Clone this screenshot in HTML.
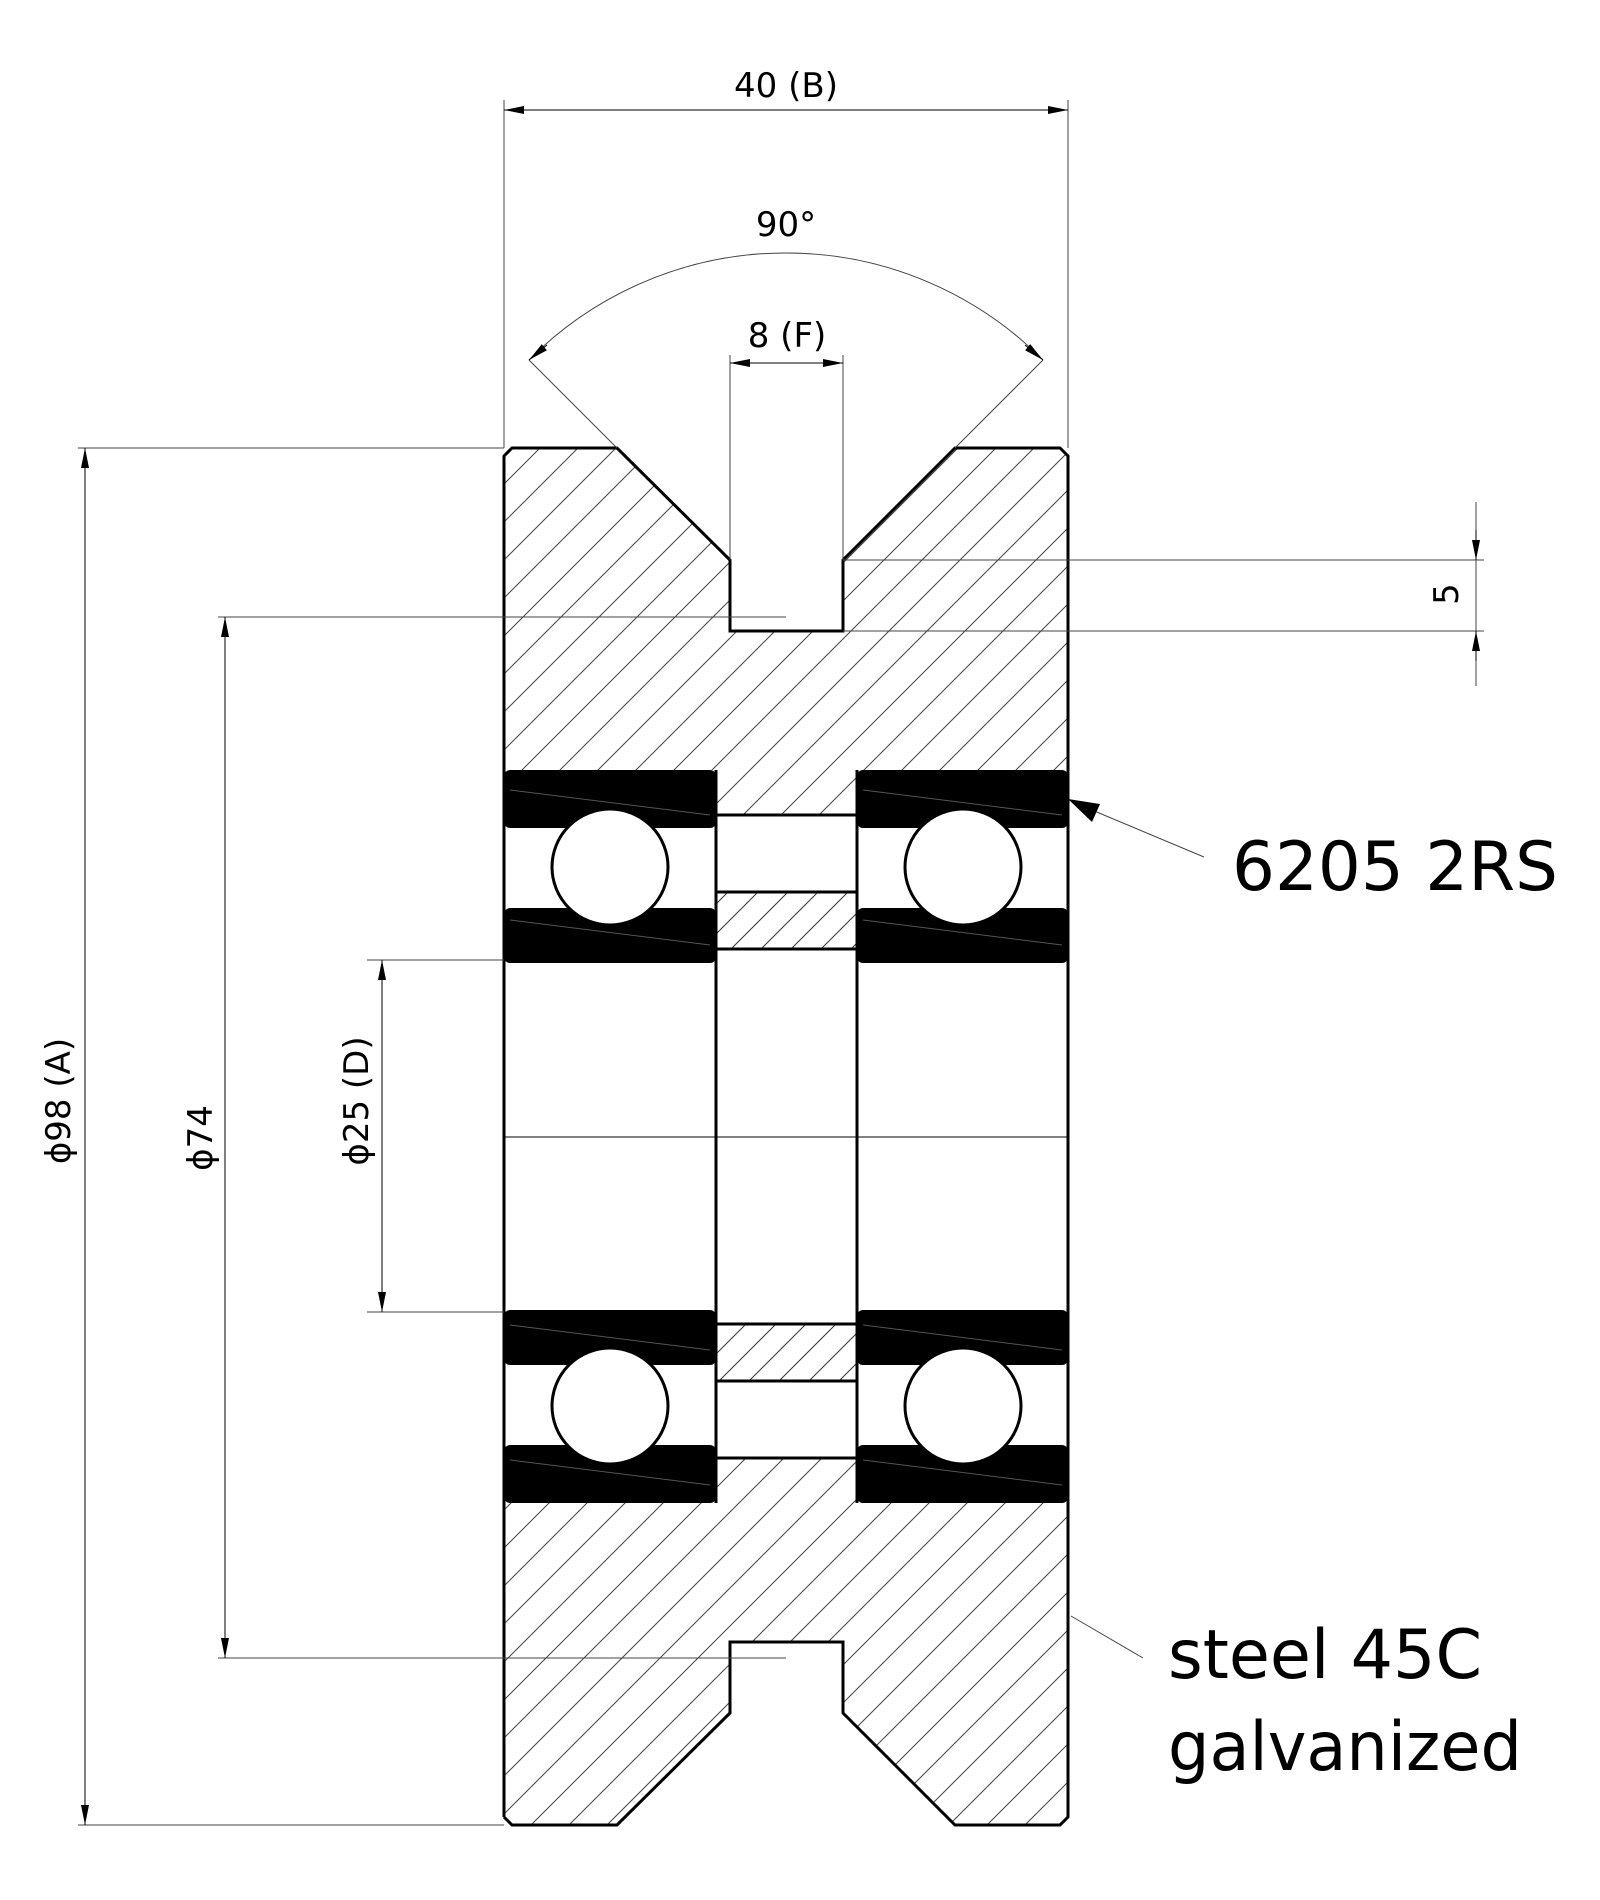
<!DOCTYPE html>
<html><head><meta charset="utf-8"><style>
html,body{margin:0;padding:0;background:#fff;}
svg{display:block;}
text{font-family:"DejaVu Sans","Liberation Sans",sans-serif;fill:#000;}
</style></head><body>
<svg width="1600" height="1900" viewBox="0 0 1600 1900" xmlns="http://www.w3.org/2000/svg">
<defs>
<pattern id="h" patternUnits="userSpaceOnUse" width="38" height="38">
<path d="M-19,19 L19,-19 M0,38 L38,0 M19,57 L57,19" stroke="#444" stroke-width="1"/>
</pattern>
<pattern id="h2" patternUnits="userSpaceOnUse" width="30" height="30">
<path d="M-15,15 L15,-15 M0,30 L30,0 M15,45 L45,15" stroke="#333" stroke-width="1"/>
</pattern>
<marker id="a" viewBox="0 0 20 8" refX="20" refY="4" markerWidth="20" markerHeight="8" markerUnits="userSpaceOnUse" orient="auto-start-reverse">
<path d="M0,0 L20,4 L0,8 Z" fill="#000"/>
</marker>
</defs>

<path d="M504,456 L512,448 L617,448 L730,560 L730,631 L843,631 L843,560 L955,448 L1060,448 L1068,456 L1068,770 L857,770 L857,815 L716,815 L716,770 L504,770 Z" fill="url(#h)" stroke="none"/>
<path d="M504,1817 L512,1825 L617,1825 L730,1713 L730,1642 L843,1642 L843,1713 L955,1825 L1060,1825 L1068,1817 L1068,1503 L857,1503 L857,1458 L716,1458 L716,1503 L504,1503 Z" fill="url(#h)" stroke="none"/>
<path d="M504,1817 L504,456 L512,448 L617,448 L730,560 L730,631 L843,631 L843,560 L955,448 L1060,448 L1068,456 L1068,1817 L1060,1825 L955,1825 L843,1713 L843,1642 L730,1642 L730,1713 L617,1825 L512,1825 L504,1817" fill="none" stroke="#000" stroke-width="3"/>

<rect x="716" y="892" width="141" height="57" fill="url(#h2)"/>
<rect x="716" y="1324" width="141" height="57" fill="url(#h2)"/>
<g stroke="#000" stroke-width="3">
<line x1="716" y1="815" x2="857" y2="815"/><line x1="716" y1="892" x2="857" y2="892"/><line x1="716" y1="949" x2="857" y2="949"/>
<line x1="716" y1="1324" x2="857" y2="1324"/><line x1="716" y1="1381" x2="857" y2="1381"/><line x1="716" y1="1458" x2="857" y2="1458"/>
<line x1="716" y1="770" x2="716" y2="1503"/><line x1="857" y1="770" x2="857" y2="1503"/>
</g>

<g fill="#000">
<rect x="504" y="770" width="212" height="58" rx="6"/>
<rect x="504" y="908" width="212" height="55" rx="6"/>
<rect x="857" y="770" width="211" height="58" rx="6"/>
<rect x="857" y="908" width="211" height="55" rx="6"/>
<rect x="504" y="1445" width="212" height="58" rx="6"/>
<rect x="504" y="1310" width="212" height="55" rx="6"/>
<rect x="857" y="1445" width="211" height="58" rx="6"/>
<rect x="857" y="1310" width="211" height="55" rx="6"/>
</g>
<g stroke="#555" stroke-width="1">
<line x1="510" y1="790" x2="710" y2="815"/><line x1="863" y1="790" x2="1062" y2="815"/>
<line x1="510" y1="920" x2="710" y2="945"/><line x1="863" y1="920" x2="1062" y2="945"/>
<line x1="510" y1="1325" x2="710" y2="1350"/><line x1="863" y1="1325" x2="1062" y2="1350"/>
<line x1="510" y1="1460" x2="710" y2="1485"/><line x1="863" y1="1460" x2="1062" y2="1485"/>
</g>
<g fill="#fff" stroke="#000" stroke-width="3">
<circle cx="610" cy="867" r="58"/><circle cx="963" cy="867" r="58"/>
<circle cx="610" cy="1406" r="58"/><circle cx="963" cy="1406" r="58"/>
</g>
<line x1="504" y1="1137" x2="1068" y2="1137" stroke="#000" stroke-width="1"/>

<g stroke="#444" stroke-width="1" fill="none">
<line x1="504" y1="448" x2="504" y2="100"/><line x1="1068" y1="448" x2="1068" y2="100"/>
<line x1="617" y1="448" x2="529" y2="360"/><line x1="955" y1="448" x2="1043" y2="360"/>
<path d="M529,360 A362,362 0 0 1 1043,360"/>
<line x1="730" y1="560" x2="730" y2="355"/><line x1="843" y1="560" x2="843" y2="355"/>
<line x1="843" y1="560" x2="1484" y2="560"/><line x1="843" y1="631" x2="1484" y2="631"/>
<line x1="1476" y1="502" x2="1476" y2="686"/>
<line x1="78" y1="448" x2="504" y2="448"/><line x1="78" y1="1825" x2="504" y2="1825"/>
<line x1="218" y1="617" x2="786" y2="617"/><line x1="218" y1="1658" x2="786" y2="1658"/>
<line x1="367" y1="960" x2="504" y2="960"/><line x1="367" y1="1312" x2="504" y2="1312"/>
<line x1="1071" y1="1616" x2="1143" y2="1658"/>
<line x1="1080" y1="805" x2="1204" y2="857"/>
</g>
<g stroke="#000" stroke-width="1" fill="none">
<line x1="504" y1="110" x2="1068" y2="110" marker-start="url(#a)" marker-end="url(#a)"/>
<line x1="730" y1="363" x2="843" y2="363" marker-start="url(#a)" marker-end="url(#a)"/>
<line x1="85" y1="448" x2="85" y2="1825" marker-start="url(#a)" marker-end="url(#a)"/>
<line x1="225" y1="617" x2="225" y2="1658" marker-start="url(#a)" marker-end="url(#a)"/>
<line x1="382" y1="960" x2="382" y2="1312" marker-start="url(#a)" marker-end="url(#a)"/>
<line x1="1476" y1="530" x2="1476" y2="560" marker-end="url(#a)"/>
<line x1="1476" y1="661" x2="1476" y2="631" marker-end="url(#a)"/>
<line x1="547" y1="345" x2="529" y2="360" marker-end="url(#a)"/>
<line x1="1025" y1="345" x2="1043" y2="360" marker-end="url(#a)"/>
</g>
<path d="M1068,799 L1100,804 L1092,822 Z" fill="#000"/>

<text x="786" y="97" font-size="34" text-anchor="middle">40 (B)</text>
<text x="786" y="236" font-size="34" text-anchor="middle">90°</text>
<text x="787" y="347" font-size="34" text-anchor="middle">8 (F)</text>
<text transform="translate(1458,594) rotate(-90)" font-size="34" text-anchor="middle">5</text>
<text transform="translate(70,1101) rotate(-90)" font-size="34" text-anchor="middle">ϕ98 (A)</text>
<text transform="translate(212,1138) rotate(-90)" font-size="34" text-anchor="middle">ϕ74</text>
<text transform="translate(368,1101) rotate(-90)" font-size="34" text-anchor="middle">ϕ25 (D)</text>
<text x="1232" y="890" font-size="68" textLength="326" lengthAdjust="spacingAndGlyphs">6205 2RS</text>
<text x="1168" y="1678" font-size="68" textLength="314" lengthAdjust="spacingAndGlyphs">steel 45C</text>
<text x="1168" y="1770" font-size="68" textLength="354" lengthAdjust="spacingAndGlyphs">galvanized</text>
</svg>
</body></html>
